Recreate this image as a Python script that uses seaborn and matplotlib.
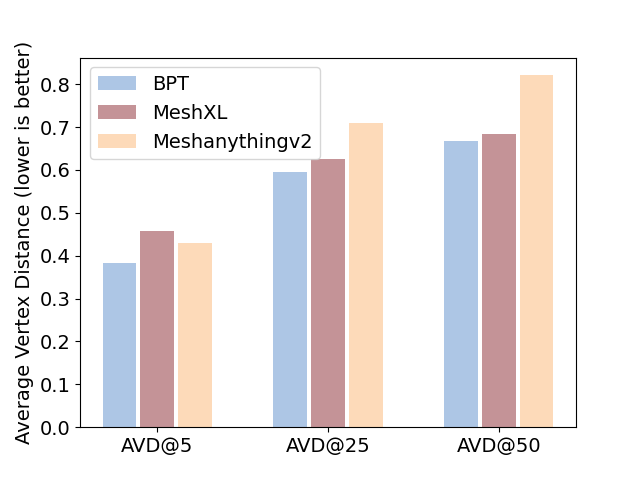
import pandas as pd
import matplotlib
matplotlib.use("Agg")
import matplotlib.pyplot as plt
import seaborn as sns

# Data
metrics = ["AVD@5", "AVD@25", "AVD@50"]
methods = ["BPT", "MeshXL", "Meshanythingv2"]
bpt = [0.383, 0.596, 0.668]
meshxl = [0.458, 0.626, 0.684]
meshanything = [0.430, 0.710, 0.821]
colors = ["#adc6e5", "#c49397", "#fddab9"]

rows = []
for name, vals in zip(methods, [bpt, meshxl, meshanything]):
    for m, v in zip(metrics, vals):
        rows.append({"metric": m, "method": name, "value": v})
df = pd.DataFrame(rows)

fig, ax = plt.subplots(figsize=(6.4, 4.8))
sns.barplot(data=df, x="metric", y="value", hue="method", palette=colors,
            width=0.66, gap=0.1, saturation=1, ax=ax)

# go back to plain matplotlib x margins
ax.relim()
ax.set_autoscalex_on(True)
ax.margins(x=0.05)
ax.autoscale_view()

ax.set_xlabel("")
ax.set_ylabel("Average Vertex Distance (lower is better)", fontsize=14)
ax.tick_params(labelsize=14)
ax.legend(loc="upper left", fontsize=14)

plt.savefig("out.png", dpi=100)
